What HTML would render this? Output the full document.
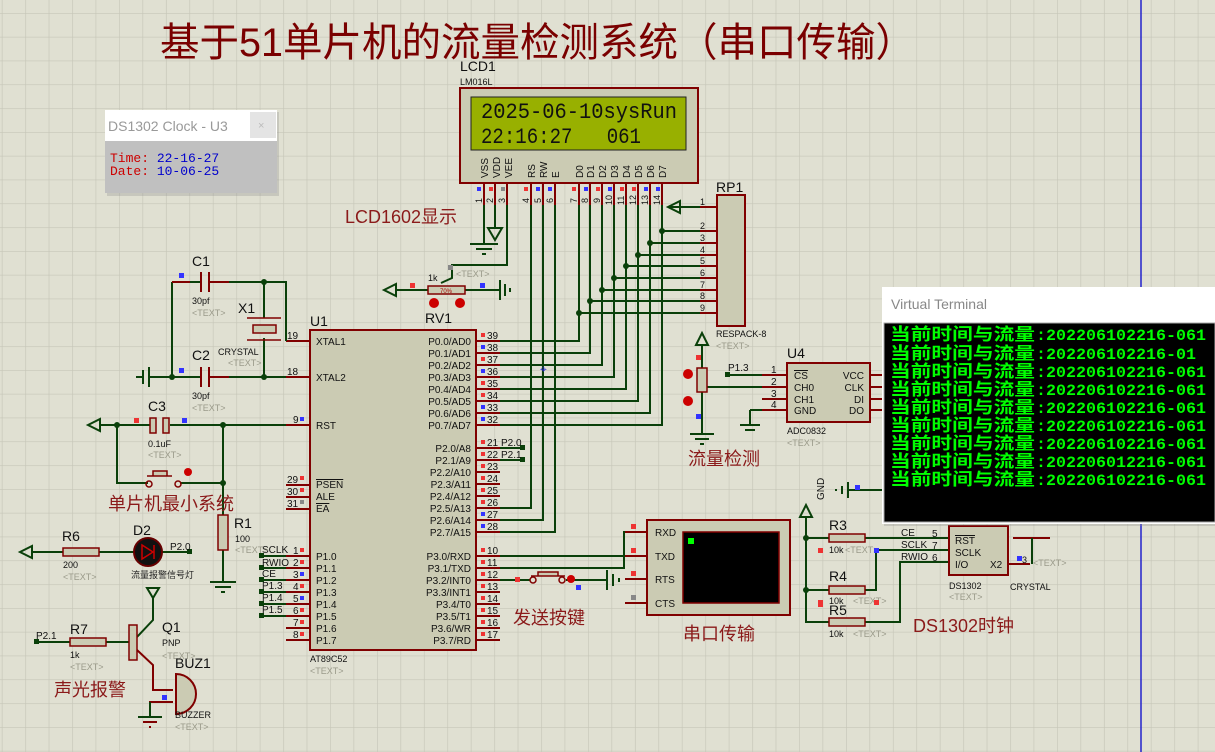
<!DOCTYPE html>
<html><head><meta charset="utf-8"><style>
html,body{margin:0;padding:0;background:#e0e0d2;}
svg{display:block;font-family:"Liberation Sans","Noto Sans CJK SC",sans-serif;}
.w{stroke:#0a400a;stroke-width:2;fill:none}
.p{stroke:#800000;stroke-width:2;fill:none}
.ch{fill:#cbcbb3;stroke:#800000;stroke-width:2}
.t{font-size:10px;fill:#111}
.s{font-size:9px;fill:#111}
.g{font-size:9px;fill:#9a9a8a}
.cn{fill:#8b1a1a;font-family:"Liberation Sans","Noto Sans CJK SC",sans-serif}
.lb{font-size:14px;fill:#111}
</style></head><body>
<svg width="1215" height="752" viewBox="0 0 1215 752">
<defs>
<pattern id="gr" x="1.8" y="13" width="23.45" height="23.8" patternUnits="userSpaceOnUse">
<path d="M0 0H23.45M0 0V23.8" stroke="#c6c6b8" stroke-width="1.3" fill="none"/>
</pattern>
</defs>
<rect width="1215" height="752" fill="#e0e0d2"/>
<rect width="1215" height="752" fill="url(#gr)"/>
<line x1="1141" y1="0" x2="1141" y2="752" stroke="#2222cc" stroke-width="1.5"/>

<!-- Title -->
<text x="160" y="56" font-size="40" fill="#7a0000" textLength="755" lengthAdjust="spacingAndGlyphs">基于51单片机的流量检测系统（串口传输）</text>

<!-- LCD -->
<text x="460" y="71" class="lb" font-size="13">LCD1</text>
<text x="460" y="85" class="s">LM016L</text>
<text x="460" y="96" class="g">&lt;TEXT&gt;</text>
<rect x="460" y="88" width="238" height="95" class="ch"/>
<rect x="471" y="97" width="215" height="53" fill="#98b000" stroke="#222" stroke-width="1"/>
<text x="481" y="118" font-family="Liberation Mono,monospace" font-size="22" fill="#111" textLength="196" lengthAdjust="spacingAndGlyphs">2025-06-10sysRun</text>
<text x="481" y="143" font-family="Liberation Mono,monospace" font-size="22" fill="#111" textLength="160" lengthAdjust="spacingAndGlyphs">22:16:27&#160;&#160;&#160;061</text>
<g font-size="10" fill="#111">
<text transform="translate(488,178) rotate(-90)">VSS</text>
<text transform="translate(500,178) rotate(-90)">VDD</text>
<text transform="translate(512,178) rotate(-90)">VEE</text>
<text transform="translate(535,178) rotate(-90)">RS</text>
<text transform="translate(547,178) rotate(-90)">RW</text>
<text transform="translate(559,178) rotate(-90)">E</text>
<text transform="translate(583,178) rotate(-90)">D0</text>
<text transform="translate(594,178) rotate(-90)">D1</text>
<text transform="translate(606,178) rotate(-90)">D2</text>
<text transform="translate(618,178) rotate(-90)">D3</text>
<text transform="translate(630,178) rotate(-90)">D4</text>
<text transform="translate(642,178) rotate(-90)">D5</text>
<text transform="translate(654,178) rotate(-90)">D6</text>
<text transform="translate(666,178) rotate(-90)">D7</text>
</g>
<g class="p">
<path d="M484 183V205M495 183V205M507 183V205M531 183V205M543 183V205M555 183V205M579 183V205M590 183V205M602 183V205M614 183V205M626 183V205M638 183V205M650 183V205M662 183V205"/>
</g>
<g font-size="9" fill="#111">
<text transform="translate(482,203) rotate(-90)">1</text><text transform="translate(493,203) rotate(-90)">2</text><text transform="translate(505,203) rotate(-90)">3</text>
<text transform="translate(529,203) rotate(-90)">4</text><text transform="translate(541,203) rotate(-90)">5</text><text transform="translate(553,203) rotate(-90)">6</text>
<text transform="translate(577,203) rotate(-90)">7</text><text transform="translate(588,203) rotate(-90)">8</text><text transform="translate(600,203) rotate(-90)">9</text>
<text transform="translate(612,205) rotate(-90)">10</text><text transform="translate(624,205) rotate(-90)">11</text><text transform="translate(636,205) rotate(-90)">12</text><text transform="translate(648,205) rotate(-90)">13</text><text transform="translate(660,205) rotate(-90)">14</text>
</g>
<g>
<rect x="477" y="187" width="4" height="4" fill="#33f"/><rect x="489" y="187" width="4" height="4" fill="#e33"/><rect x="501" y="187" width="4" height="4" fill="#888"/>
<rect x="524" y="187" width="4" height="4" fill="#e33"/><rect x="536" y="187" width="4" height="4" fill="#33f"/><rect x="548" y="187" width="4" height="4" fill="#33f"/>
<rect x="572" y="187" width="4" height="4" fill="#e33"/><rect x="584" y="187" width="4" height="4" fill="#33f"/><rect x="596" y="187" width="4" height="4" fill="#e33"/><rect x="608" y="187" width="4" height="4" fill="#33f"/><rect x="620" y="187" width="4" height="4" fill="#e33"/><rect x="632" y="187" width="4" height="4" fill="#e33"/><rect x="644" y="187" width="4" height="4" fill="#33f"/><rect x="656" y="187" width="4" height="4" fill="#33f"/>
</g>
<text x="345" y="223" class="cn" font-size="18">LCD1602显示</text>

<!-- LCD wires -->
<g class="w">
<path d="M484 205V244M470 244H498M476 249H492M482 254H486"/>
<path d="M495 205V228M488 228L495 240L502 228Z"/>
<path d="M507 205V265H452V278L441 283"/>
<path d="M531 205V508H500M543 205V520H500M555 205V532H500"/>
<path d="M579 205V341H500M590 205V353H500M602 205V365H500M614 205V377H500M626 205V389H500M638 205V401H500M650 205V413H500M662 205V425H500"/>
<path d="M662 231H717M650 243H717M638 255H717M626 266H717M614 278H717M602 290H717M590 301H717M579 313H717"/>
<path d="M668 207H700M668 207L680 201V213Z"/>
</g>
<g fill="#0a400a"><circle cx="662" cy="231" r="3"/><circle cx="650" cy="243" r="3"/><circle cx="638" cy="255" r="3"/><circle cx="626" cy="266" r="3"/><circle cx="614" cy="278" r="3"/><circle cx="602" cy="290" r="3"/><circle cx="590" cy="301" r="3"/><circle cx="579" cy="313" r="3"/></g>
<rect x="448" y="265" width="5" height="5" fill="#888"/>
<text x="456" y="277" class="g">&lt;TEXT&gt;</text>

<!-- RP1 -->
<text x="716" y="192" class="lb">RP1</text>
<rect x="717" y="195" width="28" height="131" class="ch"/>
<g class="p"><path d="M700 207H717M700 231H717M700 243H717M700 255H717M700 266H717M700 278H717M700 290H717M700 301H717M700 313H717"/></g>
<g class="s" font-size="10"><text x="700" y="205">1</text><text x="700" y="229">2</text><text x="700" y="241">3</text><text x="700" y="253">4</text><text x="700" y="264">5</text><text x="700" y="276">6</text><text x="700" y="288">7</text><text x="700" y="299">8</text><text x="700" y="311">9</text></g>
<text x="716" y="337" class="s">RESPACK-8</text>
<text x="716" y="349" class="g">&lt;TEXT&gt;</text>

<!-- RV1 -->
<g class="w"><path d="M396 290H428M384 290L396 284V296Z M465 290H500M500 280V300M505 284V296M510 288V292"/></g>
<rect x="428" y="286" width="37" height="8" fill="#cbcbb3" stroke="#800000" stroke-width="1.5"/>
<text x="440" y="293" font-size="6" fill="#a00">70%</text>
<text x="428" y="281" class="s">1k</text>
<circle cx="434" cy="303" r="5" fill="#c00"/><circle cx="460" cy="303" r="5" fill="#c00"/>
<rect x="410" y="283" width="5" height="5" fill="#e33"/><rect x="480" y="283" width="5" height="5" fill="#33f"/>
<text x="425" y="323" font-size="14" fill="#111">RV1</text>

<!-- U1 -->
<text x="310" y="326" class="lb" font-size="13">U1</text>
<rect x="310" y="330" width="166" height="320" class="ch"/>
<g class="p">
<path d="M286 341H310M286 377H310M286 425H310M286 485H310M286 497H310M286 509H310"/>
<path d="M286 556H310M286 568H310M286 580H310M286 592H310M286 604H310M286 616H310M286 628H310M286 640H310"/>
<path d="M476 341H500M476 353H500M476 365H500M476 377H500M476 389H500M476 401H500M476 413H500M476 425H500"/>
<path d="M476 448H500M476 460H500M476 472H500M476 484H500M476 496H500M476 508H500M476 520H500M476 532H500"/>
<path d="M476 556H500M476 568H500M476 580H500M476 592H500M476 604H500M476 616H500M476 628H500M476 640H500"/>
</g>
<g font-size="10" fill="#111">
<text x="316" y="345">XTAL1</text><text x="316" y="381">XTAL2</text><text x="316" y="429">RST</text>
<text x="316" y="488" text-decoration="overline">PSEN</text><text x="316" y="500">ALE</text><text x="316" y="512" text-decoration="overline">EA</text>
<text x="316" y="560">P1.0</text><text x="316" y="572">P1.1</text><text x="316" y="584">P1.2</text><text x="316" y="596">P1.3</text><text x="316" y="608">P1.4</text><text x="316" y="620">P1.5</text><text x="316" y="632">P1.6</text><text x="316" y="644">P1.7</text>
</g>
<g font-size="10" fill="#111" text-anchor="end">
<text x="471" y="345">P0.0/AD0</text><text x="471" y="357">P0.1/AD1</text><text x="471" y="369">P0.2/AD2</text><text x="471" y="381">P0.3/AD3</text><text x="471" y="393">P0.4/AD4</text><text x="471" y="405">P0.5/AD5</text><text x="471" y="417">P0.6/AD6</text><text x="471" y="429">P0.7/AD7</text>
<text x="471" y="452">P2.0/A8</text><text x="471" y="464">P2.1/A9</text><text x="471" y="476">P2.2/A10</text><text x="471" y="488">P2.3/A11</text><text x="471" y="500">P2.4/A12</text><text x="471" y="512">P2.5/A13</text><text x="471" y="524">P2.6/A14</text><text x="471" y="536">P2.7/A15</text>
<text x="471" y="560">P3.0/RXD</text><text x="471" y="572">P3.1/TXD</text><text x="471" y="584">P3.2/INT0</text><text x="471" y="596">P3.3/INT1</text><text x="471" y="608">P3.4/T0</text><text x="471" y="620">P3.5/T1</text><text x="471" y="632">P3.6/WR</text><text x="471" y="644">P3.7/RD</text>
</g>
<g font-size="10" fill="#111">
<text x="487" y="339">39</text><text x="487" y="351">38</text><text x="487" y="363">37</text><text x="487" y="375">36</text><text x="487" y="387">35</text><text x="487" y="399">34</text><text x="487" y="411">33</text><text x="487" y="423">32</text>
<text x="487" y="446">21</text><text x="487" y="458">22</text><text x="487" y="470">23</text><text x="487" y="482">24</text><text x="487" y="494">25</text><text x="487" y="506">26</text><text x="487" y="518">27</text><text x="487" y="530">28</text>
<text x="487" y="554">10</text><text x="487" y="566">11</text><text x="487" y="578">12</text><text x="487" y="590">13</text><text x="487" y="602">14</text><text x="487" y="614">15</text><text x="487" y="626">16</text><text x="487" y="638">17</text>
<text x="287" y="339">19</text><text x="287" y="375">18</text><text x="293" y="423">9</text><text x="287" y="483">29</text><text x="287" y="495">30</text><text x="287" y="507">31</text>
<text x="293" y="554">1</text><text x="293" y="566">2</text><text x="293" y="578">3</text><text x="293" y="590">4</text><text x="293" y="602">5</text><text x="293" y="614">6</text><text x="293" y="626">7</text><text x="293" y="638">8</text>
</g>
<g fill="#e33">
<rect x="481" y="333" width="4" height="4"/><rect x="481" y="357" width="4" height="4"/><rect x="481" y="381" width="4" height="4"/><rect x="481" y="393" width="4" height="4"/>
<rect x="481" y="440" width="4" height="4"/><rect x="481" y="452" width="4" height="4"/><rect x="481" y="464" width="4" height="4"/><rect x="481" y="476" width="4" height="4"/><rect x="481" y="488" width="4" height="4"/><rect x="481" y="500" width="4" height="4"/>
<rect x="481" y="548" width="4" height="4"/><rect x="481" y="560" width="4" height="4"/><rect x="481" y="572" width="4" height="4"/><rect x="481" y="584" width="4" height="4"/><rect x="481" y="596" width="4" height="4"/><rect x="481" y="608" width="4" height="4"/><rect x="481" y="620" width="4" height="4"/><rect x="481" y="632" width="4" height="4"/>
<rect x="300" y="476" width="4" height="4"/><rect x="300" y="488" width="4" height="4"/>
<rect x="300" y="548" width="4" height="4"/><rect x="300" y="560" width="4" height="4"/><rect x="300" y="584" width="4" height="4"/><rect x="300" y="608" width="4" height="4"/><rect x="300" y="620" width="4" height="4"/><rect x="300" y="632" width="4" height="4"/>
</g>
<g fill="#33f"><rect x="481" y="345" width="4" height="4"/><rect x="481" y="369" width="4" height="4"/><rect x="481" y="405" width="4" height="4"/><rect x="481" y="417" width="4" height="4"/><rect x="481" y="512" width="4" height="4"/><rect x="481" y="524" width="4" height="4"/><rect x="300" y="417" width="4" height="4"/><rect x="300" y="572" width="4" height="4"/><rect x="300" y="596" width="4" height="4"/></g>
<rect x="300" y="500" width="4" height="4" fill="#888"/>
<text x="310" y="662" class="s">AT89C52</text>
<text x="310" y="674" class="g">&lt;TEXT&gt;</text>
<text x="540" y="373" fill="#22c" font-size="12">⌖</text>

<!-- P2.0 P2.1 -->
<g class="w"><path d="M500 448H523M500 460H523"/></g>
<rect x="520" y="445" width="5" height="5" fill="#0a400a"/><rect x="520" y="457" width="5" height="5" fill="#0a400a"/>
<text x="501" y="446" class="t">P2.0</text><text x="501" y="458" class="t">P2.1</text>

<!-- P1 labels left -->
<g class="w"><path d="M262 556H286M262 568H286M262 580H286M262 592H286M262 604H286M262 616H286"/></g>
<g fill="#0a400a"><rect x="259" y="553" width="5" height="5"/><rect x="259" y="565" width="5" height="5"/><rect x="259" y="577" width="5" height="5"/><rect x="259" y="589" width="5" height="5"/><rect x="259" y="601" width="5" height="5"/><rect x="259" y="613" width="5" height="5"/></g>
<g font-size="10" fill="#111"><text x="262" y="553">SCLK</text><text x="262" y="566">RWIO</text><text x="262" y="577">CE</text><text x="262" y="589">P1.3</text><text x="262" y="601">P1.4</text><text x="262" y="613">P1.5</text></g>

<!-- Crystal / caps -->
<g class="w">
<path d="M172 282H200M172 282V377M148 377H200M136 377H143M143 370V384M149 367V387"/>
</g>
<g class="p"><path d="M200 282H201M209 282H264M209 377H264M201 272V292M209 272V292M201 367V387M209 367V387M172 282H190"/></g>
<g class="w"><path d="M229 282H286V341M264 282V318M264 338V377M229 377H286"/></g>
<rect x="253" y="325" width="23" height="8" fill="#cbcbb3" stroke="#800000" stroke-width="1.5"/>
<path d="M247 318H281M247 340H281" stroke="#800000" stroke-width="1.5"/>
<g fill="#0a400a"><circle cx="264" cy="282" r="3"/><circle cx="264" cy="377" r="3"/><circle cx="172" cy="377" r="3"/></g>
<rect x="179" y="273" width="5" height="5" fill="#33f"/><rect x="179" y="368" width="5" height="5" fill="#33f"/>
<text x="192" y="266" class="lb">C1</text><text x="192" y="304" class="s">30pf</text><text x="192" y="316" class="g">&lt;TEXT&gt;</text>
<text x="238" y="313" class="lb">X1</text><text x="218" y="355" class="s">CRYSTAL</text><text x="228" y="366" class="g">&lt;TEXT&gt;</text>
<text x="192" y="360" class="lb">C2</text><text x="192" y="399" class="s">30pf</text><text x="192" y="411" class="g">&lt;TEXT&gt;</text>

<!-- C3 / reset -->
<g class="w"><path d="M100 425H150M88 425L100 419V431Z M117 425V483H148M180 483H223M170 425H286M223 425V515M223 550V582M210 582H236M215 587H231M221 592H225"/></g>
<rect x="150" y="418" width="6" height="15" fill="#cbcbb3" stroke="#800000" stroke-width="1.5"/>
<rect x="163" y="418" width="6" height="15" fill="#cbcbb3" stroke="#800000" stroke-width="1.5"/>
<rect x="218" y="515" width="10" height="35" fill="#cbcbb3" stroke="#800000" stroke-width="1.5"/>
<circle cx="149" cy="484" r="3" fill="none" stroke="#800000" stroke-width="1.5"/><circle cx="178" cy="484" r="3" fill="none" stroke="#800000" stroke-width="1.5"/>
<path d="M147 476H172M153 476V471H167V476" stroke="#800000" stroke-width="1.5" fill="#cbcbb3"/>
<circle cx="188" cy="472" r="4" fill="#c00"/>
<g fill="#0a400a"><circle cx="117" cy="425" r="3"/><circle cx="223" cy="425" r="3"/><circle cx="223" cy="483" r="3"/></g>
<rect x="134" y="418" width="5" height="5" fill="#e33"/><rect x="182" y="418" width="5" height="5" fill="#33f"/>
<text x="148" y="411" class="lb">C3</text><text x="148" y="447" class="s">0.1uF</text><text x="148" y="458" class="g">&lt;TEXT&gt;</text>
<text x="108" y="510" class="cn" font-size="18">单片机最小系统</text>
<text x="234" y="528" class="lb">R1</text><text x="235" y="542" class="s">100</text><text x="235" y="553" class="g">&lt;TEXT&gt;</text>

<!-- R6 D2 -->
<g class="w"><path d="M32 552H63M20 552L32 546V558Z M99 552H134M162 552H190"/></g>
<rect x="63" y="548" width="36" height="8" fill="#cbcbb3" stroke="#800000" stroke-width="1.5"/>
<circle cx="148" cy="552" r="14" fill="#111" stroke="#600" stroke-width="2"/>
<path d="M142 545V559L153 552Z M154 545V559" stroke="#c00" stroke-width="1.5" fill="none"/>
<rect x="187" y="549" width="5" height="5" fill="#0a400a"/>
<text x="170" y="550" class="t">P2.0</text>
<text x="62" y="541" class="lb">R6</text><text x="63" y="568" class="s">200</text><text x="63" y="580" class="g">&lt;TEXT&gt;</text>
<text x="133" y="535" class="lb">D2</text>
<text x="131" y="578" font-size="9" fill="#222">流量报警信号灯</text>

<!-- Q1 / R7 / buzzer -->
<g class="w"><path d="M153 598V620L137 637M147 588L153 598L159 588Z"/></g>
<g class="w"><path d="M36 642H70M106 642H129"/></g>
<rect x="34" y="639" width="5" height="5" fill="#0a400a"/>
<text x="36" y="639" class="t">P2.1</text>
<rect x="70" y="638" width="36" height="8" fill="#cbcbb3" stroke="#800000" stroke-width="1.5"/>
<rect x="129" y="625" width="8" height="35" fill="#cbcbb3" stroke="#800000" stroke-width="1.5"/>
<path d="M137 650L153 665V690H173M173 702H150V717M138 717H162M143 722H157M149 727H151" stroke="#800000" stroke-width="2" fill="none"/>
<path d="M150 702V717M138 717H162" stroke="#0a400a" stroke-width="2"/>
<path d="M176 674A20 20 0 0 1 176 714Z" fill="#cbcbb3" stroke="#800000" stroke-width="2"/>
<rect x="162" y="695" width="5" height="5" fill="#33f"/>
<text x="162" y="632" class="lb">Q1</text><text x="162" y="646" class="s">PNP</text><text x="162" y="659" class="g">&lt;TEXT&gt;</text>
<text x="175" y="668" class="lb">BUZ1</text><text x="175" y="718" class="s">BUZZER</text><text x="175" y="730" class="g">&lt;TEXT&gt;</text>
<text x="70" y="634" class="lb">R7</text><text x="70" y="658" class="s">1k</text><text x="70" y="670" class="g">&lt;TEXT&gt;</text>
<text x="54" y="696" class="cn" font-size="18">声光报警</text>

<!-- Serial -->
<g class="w"><path d="M500 568H624V532H647M500 556H647M500 580H530M566 580H607M607 570V590M613 574V586M619 578V582"/></g>
<circle cx="533" cy="580" r="3" fill="none" stroke="#800000" stroke-width="1.5"/><circle cx="562" cy="580" r="3" fill="none" stroke="#800000" stroke-width="1.5"/>
<path d="M531 576H565M538 576V572H558V576" stroke="#800000" stroke-width="1.5" fill="#cbcbb3"/>
<circle cx="571" cy="579" r="4" fill="#c00"/>
<rect x="515" y="577" width="5" height="5" fill="#e33"/><rect x="576" y="585" width="5" height="5" fill="#33f"/>
<text x="513" y="624" class="cn" font-size="18">发送按键</text>
<g class="p"><path d="M625 532H647M625 556H647M625 579H647M625 603H647"/></g>
<rect x="647" y="520" width="143" height="95" class="ch"/>
<rect x="683" y="532" width="96" height="71" fill="#000" stroke="#800000" stroke-width="1.5"/>
<rect x="688" y="538" width="6" height="6" fill="#0f0"/>
<g font-size="10" fill="#111"><text x="655" y="536">RXD</text><text x="655" y="560">TXD</text><text x="655" y="583">RTS</text><text x="655" y="607">CTS</text></g>
<rect x="631" y="524" width="5" height="5" fill="#e33"/><rect x="631" y="548" width="5" height="5" fill="#e33"/><rect x="631" y="571" width="5" height="5" fill="#e33"/><rect x="631" y="595" width="5" height="5" fill="#888"/>
<text x="683" y="640" class="cn" font-size="18">串口传输</text>

<!-- pot flow -->
<g class="w"><path d="M702 345V368M702 392V434M690 434H714M695 439H709M700 444H704M696 345L702 333L708 345Z M707 387H787M727 375H787M750 410H787M750 410V425M740 425H760M745 430H755"/></g>
<rect x="697" y="368" width="10" height="24" fill="#cbcbb3" stroke="#800000" stroke-width="1.5"/>
<circle cx="688" cy="374" r="5" fill="#c00"/><circle cx="688" cy="401" r="5" fill="#c00"/>
<rect x="696" y="355" width="5" height="5" fill="#e33"/><rect x="696" y="414" width="5" height="5" fill="#33f"/>
<rect x="725" y="372" width="5" height="5" fill="#0a400a"/>
<text x="728" y="371" class="t">P1.3</text>
<text x="688" y="465" class="cn" font-size="18">流量检测</text>
<text x="787" y="358" class="lb" font-size="13">U4</text>
<g class="p"><path d="M762 375H787M762 387H787M762 399H787M762 410H787M870 375H882M870 387H882M870 399H882M870 410H882"/></g>
<rect x="787" y="363" width="83" height="59" class="ch"/>
<g font-size="10" fill="#111"><text x="794" y="379" text-decoration="overline">CS</text><text x="794" y="391">CH0</text><text x="794" y="403">CH1</text><text x="794" y="414">GND</text>
<text x="864" y="379" text-anchor="end">VCC</text><text x="864" y="391" text-anchor="end">CLK</text><text x="864" y="403" text-anchor="end">DI</text><text x="864" y="414" text-anchor="end">DO</text>
<text x="771" y="373">1</text><text x="771" y="385">2</text><text x="771" y="397">3</text><text x="771" y="408">4</text></g>
<text x="787" y="434" class="s">ADC0832</text><text x="787" y="446" class="g">&lt;TEXT&gt;</text>

<!-- DS1302 area -->
<g class="w"><path d="M848 490H882M848 482V498M842 486V494M836 489V491M806 517V622H829M806 538H829M806 590H829M800 517L806 505L812 517Z M865 538H949M865 590H876V550H949M865 622H900V562H949"/></g>
<text transform="translate(824,500) rotate(-90)" font-size="10" fill="#111">GND</text>
<rect x="855" y="485" width="5" height="5" fill="#33f"/>
<g fill="#0a400a"><circle cx="806" cy="538" r="3"/><circle cx="806" cy="590" r="3"/></g>
<rect x="829" y="534" width="36" height="8" fill="#cbcbb3" stroke="#800000" stroke-width="1.5"/>
<rect x="829" y="586" width="36" height="8" fill="#cbcbb3" stroke="#800000" stroke-width="1.5"/>
<rect x="829" y="618" width="36" height="8" fill="#cbcbb3" stroke="#800000" stroke-width="1.5"/>
<text x="829" y="530" class="lb">R3</text><text x="829" y="553" class="s">10k</text><text x="845" y="553" class="g">&lt;TEXT&gt;</text>
<text x="829" y="581" class="lb">R4</text><text x="829" y="604" class="s">10k</text><text x="853" y="604" class="g">&lt;TEXT&gt;</text>
<text x="829" y="615" class="lb">R5</text><text x="829" y="637" class="s">10k</text><text x="853" y="637" class="g">&lt;TEXT&gt;</text>
<rect x="818" y="548" width="5" height="5" fill="#e33"/><rect x="874" y="548" width="5" height="5" fill="#33f"/><rect x="818" y="600" width="5" height="5" fill="#e33"/><rect x="874" y="600" width="5" height="5" fill="#e33"/><rect x="818" y="602" width="5" height="5" fill="#e33"/>
<g font-size="10" fill="#111"><text x="901" y="536">CE</text><text x="901" y="548">SCLK</text><text x="901" y="560">RWIO</text><text x="932" y="537">5</text><text x="932" y="549">7</text><text x="932" y="561">6</text></g>
<rect x="949" y="526" width="59" height="49" class="ch"/>
<g font-size="10" fill="#111"><text x="955" y="544" text-decoration="overline">RST</text><text x="955" y="556">SCLK</text><text x="955" y="568">I/O</text><text x="990" y="568">X2</text></g>
<g class="p"><path d="M1008 564H1030M1013 538H1050"/></g>
<path d="M1032 564V538" class="w"/>
<text x="1022" y="563" class="s">3</text><rect x="1017" y="556" width="5" height="5" fill="#33f"/>
<text x="949" y="589" class="s">DS1302</text><text x="949" y="600" class="g">&lt;TEXT&gt;</text>
<text x="1010" y="590" class="s">CRYSTAL</text><text x="1033" y="566" class="g">&lt;TEXT&gt;</text>
<text x="913" y="632" class="cn" font-size="18">DS1302时钟</text>

<!-- DS1302 clock window -->
<rect x="107" y="112" width="172" height="84" fill="#999" opacity="0.35"/>
<rect x="105" y="110" width="172" height="83" fill="#c0c0c0"/>
<rect x="105" y="110" width="172" height="31" fill="#fff"/>
<text x="108" y="131" font-size="14" fill="#999">DS1302 Clock - U3</text>
<rect x="250" y="112" width="26" height="26" fill="#e4e4e4"/>
<text x="258" y="129" font-size="11" fill="#bbb">×</text>
<g font-family="Liberation Mono,monospace" font-size="13">
<text x="110" y="162"><tspan fill="#c00">Time:</tspan><tspan fill="#00c"> 22-16-27</tspan></text>
<text x="110" y="175"><tspan fill="#c00">Date:</tspan><tspan fill="#00c"> 10-06-25</tspan></text>
</g>

<!-- Virtual Terminal -->
<rect x="884" y="289" width="331" height="237" fill="#888" opacity="0.3"/>
<rect x="882" y="287" width="333" height="237" fill="#fff"/>
<text x="891" y="309" font-size="14" fill="#888">Virtual Terminal</text>
<rect x="884" y="323" width="331" height="199" fill="#000" stroke="#aaa" stroke-width="1"/>
<g fill="#00ff00" font-weight="bold">
<text y="340"><tspan x="890" font-size="17" textLength="145" lengthAdjust="spacingAndGlyphs">当前时间与流量</tspan><tspan x="1036" font-family="Liberation Mono,monospace" font-size="16" textLength="170" lengthAdjust="spacingAndGlyphs">:202206102216-061</tspan></text>
<text y="359"><tspan x="890" font-size="17" textLength="145" lengthAdjust="spacingAndGlyphs">当前时间与流量</tspan><tspan x="1036" font-family="Liberation Mono,monospace" font-size="16" textLength="160" lengthAdjust="spacingAndGlyphs">:202206102216-01</tspan></text>
<text y="377"><tspan x="890" font-size="17" textLength="145" lengthAdjust="spacingAndGlyphs">当前时间与流量</tspan><tspan x="1036" font-family="Liberation Mono,monospace" font-size="16" textLength="170" lengthAdjust="spacingAndGlyphs">:202206102216-061</tspan></text>
<text y="395"><tspan x="890" font-size="17" textLength="145" lengthAdjust="spacingAndGlyphs">当前时间与流量</tspan><tspan x="1036" font-family="Liberation Mono,monospace" font-size="16" textLength="170" lengthAdjust="spacingAndGlyphs">:202206102216-061</tspan></text>
<text y="413"><tspan x="890" font-size="17" textLength="145" lengthAdjust="spacingAndGlyphs">当前时间与流量</tspan><tspan x="1036" font-family="Liberation Mono,monospace" font-size="16" textLength="170" lengthAdjust="spacingAndGlyphs">:202206102216-061</tspan></text>
<text y="431"><tspan x="890" font-size="17" textLength="145" lengthAdjust="spacingAndGlyphs">当前时间与流量</tspan><tspan x="1036" font-family="Liberation Mono,monospace" font-size="16" textLength="170" lengthAdjust="spacingAndGlyphs">:202206102216-061</tspan></text>
<text y="449"><tspan x="890" font-size="17" textLength="145" lengthAdjust="spacingAndGlyphs">当前时间与流量</tspan><tspan x="1036" font-family="Liberation Mono,monospace" font-size="16" textLength="170" lengthAdjust="spacingAndGlyphs">:202206102216-061</tspan></text>
<text y="467"><tspan x="890" font-size="17" textLength="145" lengthAdjust="spacingAndGlyphs">当前时间与流量</tspan><tspan x="1036" font-family="Liberation Mono,monospace" font-size="16" textLength="170" lengthAdjust="spacingAndGlyphs">:202206012216-061</tspan></text>
<text y="485"><tspan x="890" font-size="17" textLength="145" lengthAdjust="spacingAndGlyphs">当前时间与流量</tspan><tspan x="1036" font-family="Liberation Mono,monospace" font-size="16" textLength="170" lengthAdjust="spacingAndGlyphs">:202206102216-061</tspan></text>
</g>
</svg>
</body></html>
